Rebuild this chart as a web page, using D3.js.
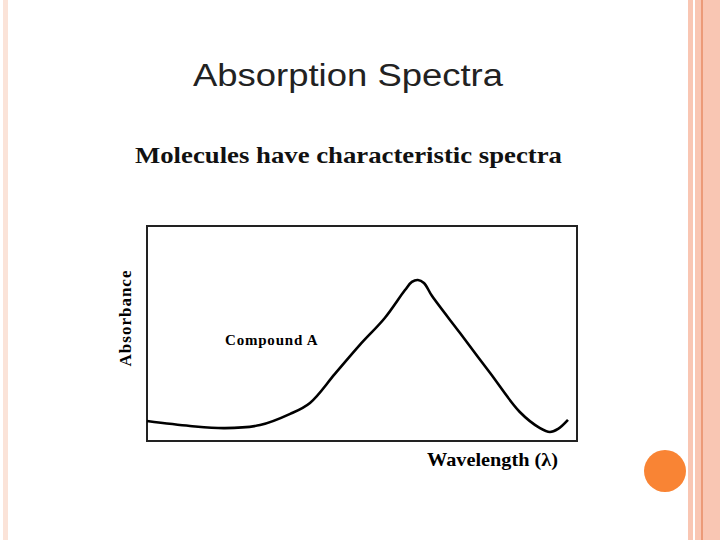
<!DOCTYPE html>
<html><head><meta charset="utf-8">
<script src="https://cdn.jsdelivr.net/npm/d3@7"></script>
<style>body{margin:0;background:#fff}</style>
</head><body>
<svg id="slide" width="720" height="540"></svg>
<script>
// wavelength (arbitrary units 0-100) and absorbance (0-1)
var wavelength = [0, 10, 18.1, 26.3, 33.3, 37.9, 43.7, 49.5, 55.3, 60, 61.6, 63, 64.4, 66.3, 72.8, 79.8, 86.7, 91.4, 93.7, 95.6, 97.9];
var absorbance = [0.093, 0.07, 0.06, 0.074, 0.126, 0.177, 0.312, 0.447, 0.572, 0.702, 0.74, 0.749, 0.735, 0.674, 0.502, 0.316, 0.135, 0.06, 0.042, 0.056, 0.098];

var svg = d3.select('#slide');

// slide decorations
svg.append("rect").attr("x", 3).attr("y", 0).attr("width", 5).attr("height", 540).attr("fill", "#fbe3d8");
svg.append("rect").attr("x", 688).attr("y", 0).attr("width", 5).attr("height", 540).attr("fill", "#f9c6b3");
svg.append("rect").attr("x", 695).attr("y", 0).attr("width", 25).attr("height", 540).attr("fill", "#f9c6b3");
svg.append("rect").attr("x", 701).attr("y", 0).attr("width", 2).attr("height", 540).attr("fill", "#ec9a78");
svg.append("circle").attr("cx", 665).attr("cy", 471).attr("r", 21).attr("fill", "#f98434");

svg.append("text").attr("x", 193).attr("y", 86)
    .attr("font-family", "Liberation Sans, Arial").attr("font-size", 31)
    .attr("textLength", 310).attr("lengthAdjust", "spacingAndGlyphs")
    .attr("fill", "#222").text("Absorption Spectra");
svg.append("text").attr("x", 135).attr("y", 163)
    .attr("font-family", "Liberation Serif, Times New Roman").attr("font-size", 24).attr("font-weight", "bold")
    .attr("textLength", 427).attr("lengthAdjust", "spacingAndGlyphs")
    .attr("fill", "#111").text("Molecules have characteristic spectra");

var plotLeft = 147, plotTop = 226, plotW = 430, plotH = 215;
var x = d3.scaleLinear().domain([0, 100]).range([plotLeft, plotLeft + plotW]);
var y = d3.scaleLinear().domain([0, 1]).range([plotTop + plotH, plotTop]);

svg.append("rect").attr("x", plotLeft).attr("y", plotTop).attr("width", plotW).attr("height", plotH)
    .attr("fill", "none").attr("stroke", "#222").attr("stroke-width", 2);

var line = d3.line()
    .x(function(d, i){ return x(wavelength[i]); })
    .y(function(d){ return y(d); })
    .curve(d3.curveCatmullRom);

svg.append("path").datum(absorbance)
    .attr("d", line).attr("fill", "none").attr("stroke", "#000").attr("stroke-width", 2.6);

var serif = "Liberation Serif, Times New Roman";
svg.append("text").attr("transform", "translate(131,318) rotate(-90)")
    .attr("font-family", serif).attr("font-size", 17).attr("font-weight", "bold")
    .attr("text-anchor", "middle").attr("letter-spacing", 1).text("Absorbance");
svg.append("text").attr("x", 225).attr("y", 345)
    .attr("font-family", serif).attr("font-size", 15).attr("font-weight", "bold")
    .attr("letter-spacing", 0.8).text("Compound A");
svg.append("text").attr("x", 427).attr("y", 466)
    .attr("font-family", serif).attr("font-size", 19).attr("font-weight", "bold")
    .attr("textLength", 131).attr("lengthAdjust", "spacingAndGlyphs")
    .text("Wavelength (λ)");
</script>
</body></html>
